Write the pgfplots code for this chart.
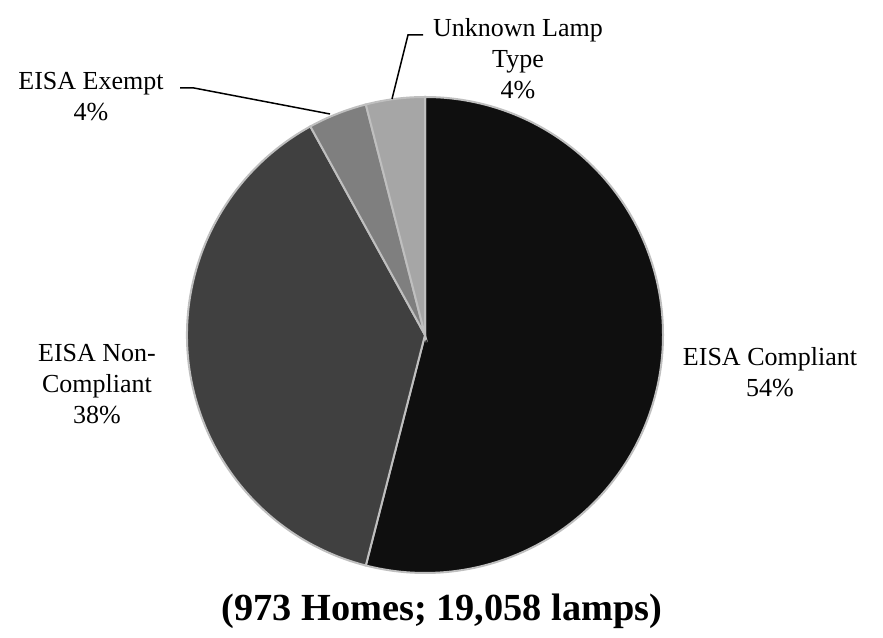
\documentclass[border=0pt]{standalone}
\usepackage{pgfplots}
\pgfplotsset{compat=1.18}
\usepackage{pgfplotstable}
\usepackage{fontspec}
\setmainfont{Liberation Serif}

\definecolor{pieA}{HTML}{0F0F0F}
\definecolor{pieB}{HTML}{404040}
\definecolor{pieC}{HTML}{7F7F7F}
\definecolor{pieD}{HTML}{A6A6A6}
\definecolor{pieEdge}{HTML}{BFBFBF}

% lamp shares (percent), clockwise from 12 o'clock
\pgfplotstableread{
share colour
54 pieA
38 pieB
4 pieC
4 pieD
}\piedata

\begin{document}
\begin{tikzpicture}
\begin{axis}[
  x=1pt, y=1pt,
  xmin=0, xmax=883, ymin=0, ymax=637,
  hide axis, clip=false,
]
\path (axis cs:0,0) rectangle (axis cs:883,637);
\def\cumangle{90}
\pgfplotsforeachungrouped \i in {0,...,3}{%
  \pgfplotstablegetelem{\i}{share}\of\piedata \let\sh\pgfplotsretval
  \pgfplotstablegetelem{\i}{colour}\of\piedata \let\col\pgfplotsretval
  \pgfmathsetmacro\endangle{\cumangle-3.6*\sh}%
  \edef\wedge{\noexpand\filldraw[fill=\col,draw=pieEdge,line width=2pt]
    (axis cs:425,302) -- (axis cs:{425+238*cos(\cumangle)},{302+238*sin(\cumangle)})
    arc[start angle=\cumangle,end angle=\endangle,radius=238pt] -- cycle;}%
  \wedge
  \global\let\cumangle\endangle
}

\tikzset{lbl/.style={font=\fontsize{26}{31}\selectfont, align=center}}
\node[lbl] at (axis cs:770,265) {EISA Compliant\\54\%};
\node[lbl] at (axis cs:97,253) {EISA Non-\\Compliant\\38\%};
\node[lbl] at (axis cs:91,540) {EISA Exempt\\4\%};
\node[lbl] at (axis cs:518,578) {Unknown Lamp\\Type\\4\%};

\draw[line width=1.5pt] (axis cs:180,549) -- (axis cs:194,549) -- (axis cs:330,523);
\draw[line width=1.5pt] (axis cs:423,602) -- (axis cs:408,602) -- (axis cs:392,538);

\node[font=\fontsize{38.3}{46}\selectfont\bfseries] at (axis cs:442,26) {(973 Homes; 19,058 lamps)};
\end{axis}
\end{tikzpicture}
\end{document}
